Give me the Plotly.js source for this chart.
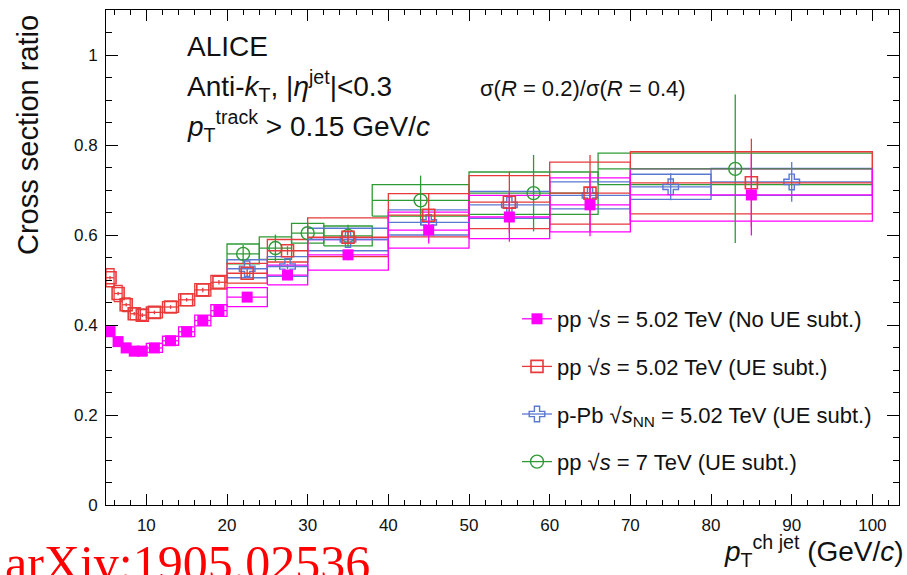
<!DOCTYPE html>
<html>
<head>
<meta charset="utf-8">
<script src="https://cdn.plot.ly/plotly-3.0.1.min.js"></script>
<style>html,body{margin:0;padding:0;background:#fff;}#chart{width:907px;height:575px;}</style>
</head>
<body>
<div id="chart"></div>
<script>
// ---- pp 5.02 TeV bins (shared by No-UE and UE-subtracted) ----
const binLo_pp5 = [5,6,7,8,9,10,12,14,16,18,20,25,30,40,50,60,70];
const binHi_pp5 = [6,7,8,9,10,12,14,16,18,20,25,30,40,50,60,70,100];
// pp 5.02 TeV, no UE subtraction
const ratio_noUE = [0.385,0.363,0.349,0.342,0.342,0.349,0.365,0.385,0.410,0.432,0.462,0.511,0.556,0.611,0.640,0.667,0.689];
const stat_noUE  = [0.003,0.003,0.003,0.003,0.003,0.003,0.003,0.003,0.004,0.004,0.005,0.008,0.012,0.030,0.055,0.070,0.090];
const sys_noUE   = [0.010,0.010,0.010,0.010,0.010,0.010,0.010,0.011,0.012,0.013,0.021,0.022,0.034,0.040,0.048,0.060,0.058];
// pp 5.02 TeV, UE subtracted
const ratio_UE = [0.505,0.470,0.445,0.425,0.422,0.428,0.440,0.456,0.478,0.495,0.515,0.565,0.595,0.644,0.673,0.693,0.716];
const stat_UE  = [0.004,0.004,0.004,0.004,0.004,0.004,0.004,0.004,0.005,0.005,0.006,0.010,0.015,0.048,0.068,0.085,0.098];
const sys_UE   = [0.020,0.018,0.015,0.013,0.012,0.012,0.012,0.013,0.014,0.015,0.022,0.025,0.043,0.048,0.059,0.069,0.069];
// p-Pb 5.02 TeV, UE subtracted
const binLo_pPb = [20,25,30,40,50,60,70,80];
const binHi_pPb = [25,30,40,50,60,70,80,100];
const ratio_pPb = [0.525,0.530,0.590,0.628,0.667,0.688,0.707,0.718];
const stat_pPb  = [0.005,0.006,0.008,0.012,0.015,0.020,0.030,0.044];
const sys_pPb   = [0.020,0.022,0.025,0.028,0.030,0.030,0.028,0.030];
// pp 7 TeV, UE subtracted
const binLo_pp7 = [20,24,28,32,38,50,66];
const binHi_pp7 = [24,28,32,38,50,66,100];
const ratio_pp7 = [0.558,0.571,0.604,0.598,0.677,0.693,0.747];
const stat_pp7  = [0.020,0.030,0.020,0.025,0.055,0.085,0.165];
const sys_pp7   = [0.022,0.025,0.022,0.022,0.035,0.047,0.035];

const names = [
  'pp \u221A<i>s</i> = 5.02 TeV (No UE subt.)',
  'pp \u221A<i>s</i> = 5.02 TeV (UE subt.)',
  'p-Pb \u221A<i>s</i><sub>NN</sub> = 5.02 TeV (UE subt.)',
  'pp \u221A<i>s</i> = 7 TeV (UE subt.)'
];

const C_MAG = '#ff00ff', C_RED = '#e83a3a', C_BLUE = '#5a78d2', C_GREEN = '#2e9a36';

function sysBoxes(lo, hi, y, s, color){
  const bx = [], by = [];
  for (let i = 0; i < y.length; i++){
    bx.push(lo[i], hi[i], hi[i], lo[i], lo[i], null);
    by.push(y[i]-s[i], y[i]-s[i], y[i]+s[i], y[i]+s[i], y[i]-s[i], null);
  }
  return {x: bx, y: by, type: 'scatter', mode: 'lines', line: {color: color, width: 1.3},
          hoverinfo: 'skip', showlegend: false};
}
function points(lo, hi, y, stat, color, marker){
  const cx = lo.map((v,i) => (v + hi[i]) / 2);
  const hw = lo.map((v,i) => (hi[i] - v) / 2);
  return {x: cx, y: y, type: 'scatter', mode: 'markers', marker: marker, showlegend: false,
          error_x: {type: 'data', array: hw, visible: true, width: 0, thickness: 1.3, color: color},
          error_y: {type: 'data', array: stat, visible: true, width: 0, thickness: 1.3, color: color}};
}
function legendEntry(name, color, marker, grp){
  return {x: [null], y: [null], type: 'scatter', mode: 'lines+markers', name: name, legendgroup: grp,
          line: {color: color, width: 1.3}, marker: marker};
}

const mMag = {symbol: 'square', size: 11, color: C_MAG, line: {width: 0}};
const mRed = {symbol: 'square-open', size: 12, color: C_RED, line: {width: 1.6, color: C_RED}};
const mBlue = {symbol: 'cross-open', size: 13, color: C_BLUE, line: {width: 1.4, color: C_BLUE}};
const mGreen = {symbol: 'circle-open', size: 13, color: C_GREEN, line: {width: 1.4, color: C_GREEN}};

const data = [
  sysBoxes(binLo_pp7, binHi_pp7, ratio_pp7, sys_pp7, C_GREEN),
  sysBoxes(binLo_pPb, binHi_pPb, ratio_pPb, sys_pPb, C_BLUE),
  sysBoxes(binLo_pp5, binHi_pp5, ratio_UE, sys_UE, C_RED),
  sysBoxes(binLo_pp5, binHi_pp5, ratio_noUE, sys_noUE, C_MAG),
  points(binLo_pp7, binHi_pp7, ratio_pp7, stat_pp7, C_GREEN, mGreen),
  points(binLo_pPb, binHi_pPb, ratio_pPb, stat_pPb, C_BLUE, mBlue),
  points(binLo_pp5, binHi_pp5, ratio_UE, stat_UE, C_RED, mRed),
  points(binLo_pp5, binHi_pp5, ratio_noUE, stat_noUE, C_MAG, mMag),
  legendEntry(names[0], C_MAG, mMag, 'a'),
  legendEntry(names[1], C_RED, mRed, 'b'),
  legendEntry(names[2], C_BLUE, mBlue, 'c'),
  legendEntry(names[3], C_GREEN, mGreen, 'd')
];

const FONT = 'Liberation Sans, Arial, Helvetica, sans-serif';
const L = 106, R = 8, T = 10, B = 70, W = 907, H = 575;
const PW = W - L - R, PH = H - T - B;
const px = v => (v - L) / PW;
const py = v => (H - B - v) / PH;

const layout = {
  width: W, height: H,
  margin: {l: L, r: R, t: T, b: B, pad: 0},
  paper_bgcolor: '#fff', plot_bgcolor: '#fff',
  font: {family: FONT, size: 17, color: '#111'},
  showlegend: true,
  legend: {x: px(517), y: py(298), xanchor: 'left', yanchor: 'top', traceorder: 'grouped',
           tracegroupgap: 16, font: {family: FONT, size: 22, color: '#111'}, bgcolor: 'rgba(0,0,0,0)'},
  xaxis: {range: [5, 103.3], tick0: 0, dtick: 10, ticks: 'inside', ticklen: 11, tickwidth: 1,
          tickcolor: '#000', showline: true, linecolor: '#000', linewidth: 1, mirror: 'allticks',
          showgrid: false, zeroline: false, ticklabelstandoff: 5,
          tickfont: {family: FONT, size: 17, color: '#111'},
          minor: {dtick: 2, ticks: 'inside', ticklen: 5, tickcolor: '#000', showgrid: false}},
  yaxis: {range: [0, 1.1], tick0: 0, dtick: 0.2, ticks: 'inside', ticklen: 12, tickwidth: 1,
          tickcolor: '#000', showline: true, linecolor: '#000', linewidth: 1, mirror: 'allticks',
          showgrid: false, zeroline: false, ticklabelstandoff: 4,
          tickfont: {family: FONT, size: 17, color: '#111'},
          minor: {dtick: 0.05, ticks: 'inside', ticklen: 6, tickcolor: '#000', showgrid: false}},
  annotations: [
    {xref: 'paper', yref: 'paper', x: px(185), y: py(46), xanchor: 'left', yanchor: 'middle', showarrow: false,
     text: 'ALICE', font: {family: FONT, size: 28, color: '#111'}},
    {xref: 'paper', yref: 'paper', x: px(185), y: py(86), xanchor: 'left', yanchor: 'middle', showarrow: false,
     text: 'Anti-<i>k</i><sub>T</sub>, |<i>\u03B7</i><sup>jet</sup>|&lt;0.3', font: {family: FONT, size: 28, color: '#111'}},
    {xref: 'paper', yref: 'paper', x: px(185), y: py(126), xanchor: 'left', yanchor: 'middle', showarrow: false,
     text: '<i>p</i><sub>T</sub><sup>track</sup> &gt; 0.15 GeV/<i>c</i>', font: {family: FONT, size: 28, color: '#111'}},
    {xref: 'paper', yref: 'paper', x: px(478), y: py(88), xanchor: 'left', yanchor: 'middle', showarrow: false,
     text: '\u03C3(<i>R</i> = 0.2)/\u03C3(<i>R</i> = 0.4)', font: {family: FONT, size: 22, color: '#111'}},
    {xref: 'paper', yref: 'paper', x: px(28), y: py(135), xanchor: 'center', yanchor: 'middle', showarrow: false,
     textangle: -90, text: 'Cross section ratio', font: {family: FONT, size: 29, color: '#111'}},
    {xref: 'paper', yref: 'paper', x: px(906), y: py(551), xanchor: 'right', yanchor: 'middle', showarrow: false,
     text: '<i>p</i><sub>T</sub><sup>ch jet</sup> (GeV/<i>c</i>)', font: {family: FONT, size: 28, color: '#111'}},
    {xref: 'paper', yref: 'paper', x: px(3), y: py(533), xanchor: 'left', yanchor: 'top', showarrow: false,
     text: 'arXiv:1905.02536', font: {family: 'Liberation Serif, Times New Roman, serif', size: 50, color: '#ff0000'}}
  ]
};

Plotly.newPlot('chart', data, layout, {displayModeBar: false, staticPlot: true});
</script>
</body>
</html>
